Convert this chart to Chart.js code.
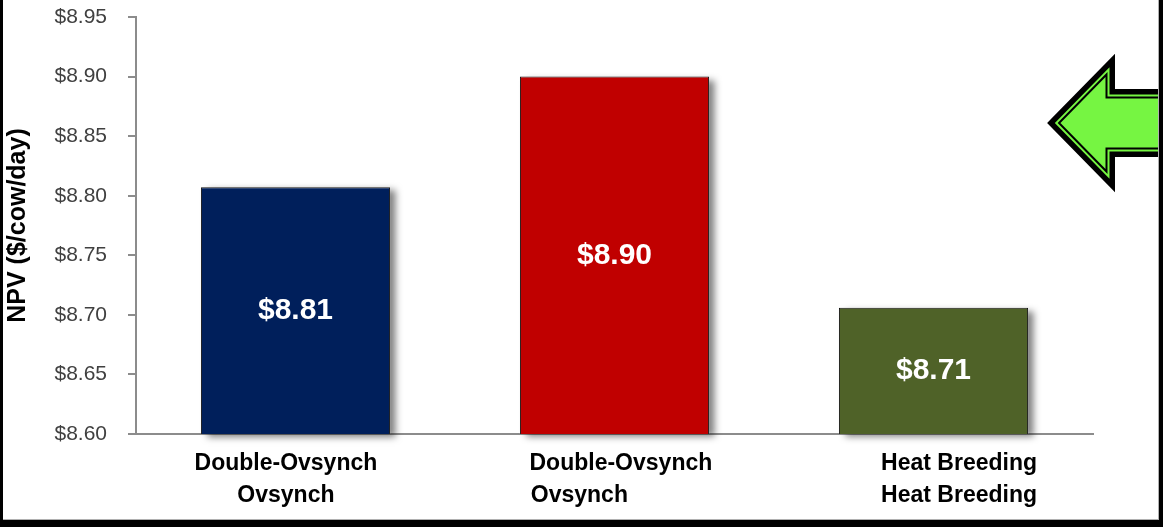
<!DOCTYPE html>
<html>
<head>
<meta charset="utf-8">
<script src="https://cdn.jsdelivr.net/npm/chart.js@4.4.1/dist/chart.umd.min.js"></script>
<style>
  html, body { margin: 0; padding: 0; background: #fff; }
  #wrap { width: 1163px; height: 527px; position: relative; }
</style>
</head>
<body>
<div id="wrap"><canvas id="npvChart" width="1163" height="527"></canvas></div>
<script>
// categories (two lines each; spaces nudge lines the way the original sits)
const categories = [
  ['Double-Ovsynch   ', 'Ovsynch   '],
  ['  Double-Ovsynch', 'Ovsynch           '],
  ['        Heat Breeding', '        Heat Breeding']
];
const npvValues = [8.807, 8.90, 8.706];
const barColors = ['#001f5b', '#c00000', '#4f6228'];
const yTicks = [8.60, 8.65, 8.70, 8.75, 8.80, 8.85, 8.90, 8.95];

const ctx = document.getElementById('npvChart');

// soft drop shadow behind the bars (white box under each bar casts it)
const barShadow = {
  id: 'barShadow',
  beforeDatasetsDraw(chart) {
    const c = chart.ctx;
    const bottom = chart.chartArea.bottom;
    c.save();
    c.shadowColor = 'rgba(0,0,0,0.5)';
    c.shadowBlur = 7;
    c.shadowOffsetX = 6;
    c.shadowOffsetY = 3;
    c.fillStyle = '#ffffff';
    chart.getDatasetMeta(0).data.forEach(function(bar) {
      c.fillRect(bar.x - bar.width / 2, bar.y, bar.width, bottom - bar.y);
    });
    c.restore();
  }
};

// white value labels in the middle of each bar
const valueLabels = {
  id: 'valueLabels',
  afterDatasetsDraw(chart) {
    const c = chart.ctx;
    const bottom = chart.chartArea.bottom;
    c.save();
    c.fillStyle = '#ffffff';
    c.font = 'bold 30px "Liberation Sans", Arial, sans-serif';
    c.textAlign = 'center';
    c.textBaseline = 'middle';
    chart.getDatasetMeta(0).data.forEach(function(bar, i) {
      c.fillText('$' + npvValues[i].toFixed(2), bar.x, (bar.y + bottom) / 2);
    });
    c.restore();
  }
};

// frame and the green arrow on the right
const decorations = {
  id: 'decorations',
  afterDraw(chart) {
    const c = chart.ctx;
    c.save();
    // arrow (path runs along the middle of the black edge)
    c.beginPath();
    c.moveTo(1059, 123);
    c.lineTo(1106.5, 74.5);
    c.lineTo(1106.5, 97.5);
    c.lineTo(1200, 97.5);
    c.lineTo(1200, 148.5);
    c.lineTo(1106.5, 148.5);
    c.lineTo(1106.5, 171.5);
    c.closePath();
    c.lineJoin = 'miter';
    c.strokeStyle = '#000';
    c.lineWidth = 17;
    c.stroke();
    c.fillStyle = '#76f542';
    c.fill();
    c.strokeStyle = '#76f542';
    c.lineWidth = 6;
    c.stroke();
    c.strokeStyle = '#000';
    c.lineWidth = 2;
    c.stroke();

    // frame
    c.fillStyle = '#000';
    c.fillRect(0, 0, 3, 527);
    c.fillRect(1159, 0, 4, 527);
    c.fillRect(0, 520, 1163, 7);
    c.fillStyle = '#b0b0b0';
    c.fillRect(1158, 0, 1, 520);
    c.fillRect(3, 519, 1155, 1);
    c.restore();
  }
};

new Chart(ctx, {
  type: 'bar',
  data: {
    labels: categories,
    datasets: [{
      label: 'NPV',
      data: npvValues,
      backgroundColor: barColors,
      borderColor: '#111111',
      borderWidth: 1,
      borderSkipped: false,
      categoryPercentage: 1,
      barPercentage: 0.593
    }]
  },
  options: {
    responsive: false,
    animation: false,
    layout: { padding: { top: 17, right: 70, bottom: 0, left: 0 } },
    plugins: {
      legend: { display: false },
      tooltip: { enabled: false }
    },
    scales: {
      y: {
        min: 8.6,
        max: 8.95,
        afterBuildTicks(scale) {
          scale.ticks = yTicks.map(v => ({ value: v }));
        },
        afterFit(scale) {
          scale.width = 136;
          scale.paddingTop = 0;
          scale.paddingBottom = 0;
        },
        ticks: {
          padding: 21,
          color: '#404040',
          font: { family: '"Liberation Sans", Arial, sans-serif', size: 21 },
          callback: v => '$' + Number(v).toFixed(2)
        },
        grid: {
          drawOnChartArea: false,
          tickLength: 8,
          color: '#8c8c8c',
          lineWidth: 2
        },
        border: { color: '#8c8c8c', width: 2 },
        title: {
          display: true,
          text: 'NPV ($/cow/day)',
          color: '#000',
          padding: { top: 3, bottom: 0 },
          font: { family: '"Liberation Sans", Arial, sans-serif', size: 25, weight: 'bold' }
        }
      },
      x: {
        afterFit(scale) { scale.height = 93; },
        ticks: {
          padding: 6,
          color: '#000',
          maxRotation: 0,
          autoSkip: false,
          font: { family: '"Liberation Sans", Arial, sans-serif', size: 23, weight: 'bold', lineHeight: 1.39 }
        },
        grid: { display: false },
        border: { color: '#8c8c8c', width: 2 }
      }
    }
  },
  plugins: [barShadow, valueLabels, decorations]
});
</script>
</body>
</html>
